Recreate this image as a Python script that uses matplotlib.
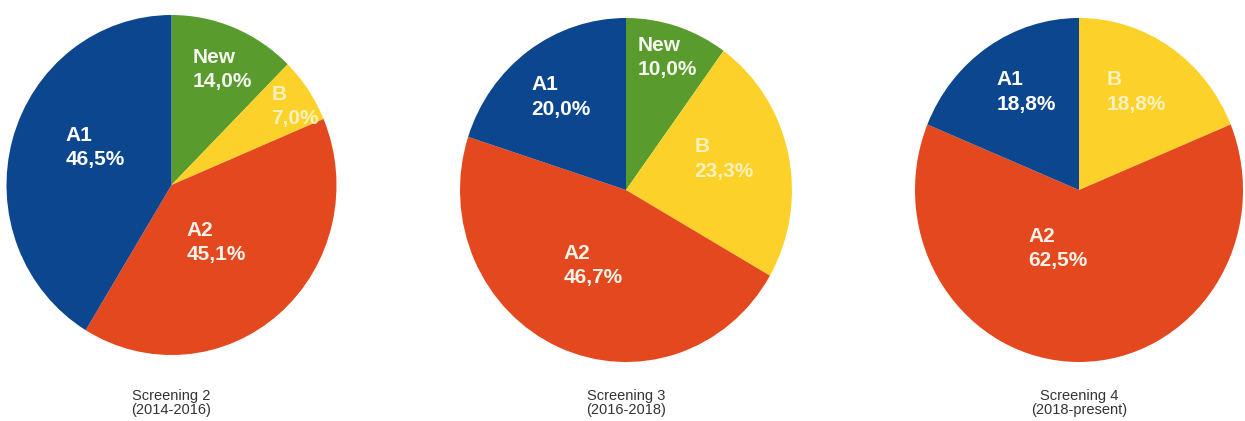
import matplotlib.pyplot as plt

# data (clockwise from 12 o'clock)
s2_labels = ['New', 'B', 'A2', 'A1']
s2_values = [14.0, 7.0, 45.1, 46.5]
s3_labels = ['New', 'B', 'A2', 'A1']
s3_values = [10.0, 23.3, 46.7, 20.0]
s4_labels = ['B', 'A2', 'A1']
s4_values = [18.8, 62.5, 18.8]
titles = ['Screening 2\n(2014-2016)', 'Screening 3\n(2016-2018)', 'Screening 4\n(2018-present)']

colors = {'A1': '#0b468f', 'A2': '#e4481f', 'B': '#fcd22a', 'New': '#5a9b2e'}
text_colors = {'A1': 'white', 'A2': '#fbf3ea', 'B': '#fdf1bd', 'New': '#f4f8ef'}

W, H = 1245, 421
fig = plt.figure(figsize=(W / 100, H / 100), dpi=100)
plt.rcParams['font.family'] = ['Liberation Sans', 'DejaVu Sans']

# pixel geometry of each pie: centre x, centre y, radius x, radius y
geom = [(171.5, 185, 165, 170), (626, 190, 166, 172), (1079, 190, 164, 172)]
# label block centres, as fractions of the radius (layout only)
label_pos = [
    [(0.31, 0.68), (0.75, 0.46), (0.27, -0.34), (-0.46, 0.22)],
    [(0.25, 0.77), (0.59, 0.18), (-0.20, -0.44), (-0.39, 0.54)],
    [(0.35, 0.57), (-0.13, -0.34), (-0.32, 0.57)],
]

pies = [(s2_labels, s2_values), (s3_labels, s3_values), (s4_labels, s4_values)]

for i, (labels, values) in enumerate(pies):
    cx, cy, rx, ry = geom[i]
    ax = fig.add_axes([(cx - rx) / W, (H - cy - ry) / H, 2 * rx / W, 2 * ry / H])
    ax.pie(values, colors=[colors[l] for l in labels], startangle=90,
           counterclock=False, wedgeprops=dict(linewidth=0))
    ax.set_aspect('auto')
    ax.set_xlim(-1, 1)
    ax.set_ylim(-1, 1)
    for j, (lab, v) in enumerate(zip(labels, values)):
        x, y = label_pos[i][j]
        ax.text(x, y, f'{lab}\n{v:.1f}%'.replace('.', ','),
                ha='center', va='center', multialignment='left',
                fontsize=15, fontweight='bold', color=text_colors[lab], linespacing=1.35)
    fig.text(cx / W, 1 - 403 / H, titles[i], ha='center', va='center',
             fontsize=10.5, color='#333333', linespacing=1.0)

fig.savefig('out.png', dpi=100, facecolor='white')
